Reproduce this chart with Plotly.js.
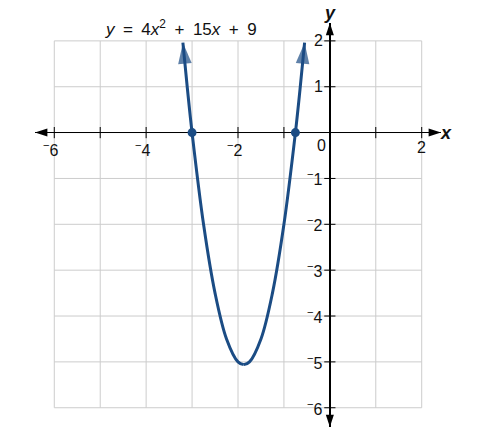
<!DOCTYPE html>
<html>
<head>
<meta charset="utf-8">
<script src="https://cdn.plot.ly/plotly-3.0.1.min.js"></script>
<style>
  html, body { margin: 0; padding: 0; background: #fff; }
  #plot { width: 487px; height: 433px; }
</style>
</head>
<body>
<div id="plot"></div>
<script>
const curveX = [-3.2, -3.1, -3, -2.75, -2.5, -2.25, -2, -1.875, -1.75, -1.5, -1.25, -1, -0.75, -0.65, -0.55];
const curveY = [1.96, 0.94, 0, -2, -3.5, -4.5, -5, -5.06, -5, -4.5, -3.5, -2, 0, 0.94, 1.96];
const rootX = [-3, -0.75];
const rootY = [0, 0];

const gridVals = [-6, -5, -4, -3, -2, -1, 0, 1, 2];
const xTickVals = [-6, -5, -4, -3, -2, -1, 1, 2];
const xLabelVals = [-6, -4, -2, 2];
const yTickVals = [-6, -5, -4, -3, -2, -1, 1, 2];
const yLabelVals = [-6, -5, -4, -3, -2, -1, 1, 2];

const blue = '#1b4c84';
const font = 'Liberation Sans, Arial, sans-serif';
const xRange = [-6.42, 2.42];
const yRange = [-6.42, 2.39];

function label(v) {
    return v < 0 ? '<sup>\u2212</sup>' + Math.abs(v) : String(v);
}

// split the curve at its lowest point so each half ends in an arrowhead
const vi = curveY.indexOf(Math.min(...curveY));
const leftX = curveX.slice(0, vi + 1).reverse();
const leftY = curveY.slice(0, vi + 1).reverse();
const rightX = curveX.slice(vi);
const rightY = curveY.slice(vi);

function half(xs, ys) {
    return {
        x: xs, y: ys,
        type: 'scatter', mode: 'lines+markers',
        line: { color: blue, width: 3, shape: 'spline', backoff: 'auto' },
        marker: {
            symbol: 'arrow', angleref: 'previous', color: blue,
            size: xs.map((_, i) => i === xs.length - 1 ? 22 : 0),
            line: { width: 0 }
        },
        cliponaxis: false,
        hoverinfo: 'skip'
    };
}

const traces = [
    {
        x: xTickVals, y: xTickVals.map(() => 0),
        type: 'scatter', mode: 'markers',
        marker: { symbol: 'line-ns-open', size: 8, color: '#000', line: { color: '#000', width: 1 } },
        hoverinfo: 'skip'
    },
    {
        x: yTickVals.map(() => 0), y: yTickVals,
        type: 'scatter', mode: 'markers',
        marker: { symbol: 'line-ew-open', size: 8, color: '#000', line: { color: '#000', width: 1 } },
        hoverinfo: 'skip'
    },
    // axis arrowheads at the ends of the axes
    {
        x: [xRange[0], xRange[1], 0, 0],
        y: [0, 0, yRange[1], yRange[0]],
        type: 'scatter', mode: 'markers',
        marker: { symbol: 'arrow', size: 13, color: '#000', angle: [-90, 90, 0, 180], line: { width: 0 } },
        cliponaxis: false,
        hoverinfo: 'skip'
    },
    half(leftX, leftY),
    half(rightX, rightY),
    {
        x: rootX, y: rootY,
        type: 'scatter', mode: 'markers',
        marker: { size: 9, color: blue },
        cliponaxis: false,
        hoverinfo: 'skip'
    }
];

const shapes = [];
gridVals.forEach(v => {
    shapes.push({ type: 'line', xref: 'x', yref: 'y', x0: v, x1: v, y0: -6, y1: 2,
        line: { color: '#cccccc', width: 1 }, layer: 'below' });
    shapes.push({ type: 'line', xref: 'x', yref: 'y', x0: -6, x1: 2, y0: v, y1: v,
        line: { color: '#cccccc', width: 1 }, layer: 'below' });
});

const annotations = [];
xLabelVals.forEach(v => {
    annotations.push({
        x: v, y: 0, xref: 'x', yref: 'y', text: label(v), showarrow: false,
        xanchor: 'center', yanchor: 'top', xshift: v < 0 ? -3.5 : 0, yshift: -4,
        font: { family: font, size: 16, color: '#111' }
    });
});
yLabelVals.forEach(v => {
    annotations.push({
        x: 0, y: v, xref: 'x', yref: 'y', text: label(v), showarrow: false,
        xanchor: 'right', yanchor: 'middle', xshift: -5,
        font: { family: font, size: 16, color: '#111' }
    });
});
annotations.push({
    x: 0, y: 0, xref: 'x', yref: 'y', text: '0', showarrow: false,
    xanchor: 'right', yanchor: 'top', xshift: -2, yshift: -2,
    font: { family: font, size: 16, color: '#111' }
});
annotations.push({
    x: 1.013, y: 0, xref: 'paper', yref: 'y', text: '<b><i>x</i></b>', showarrow: false,
    xanchor: 'center', yanchor: 'middle',
    font: { family: font, size: 18, color: '#111' }
});
annotations.push({
    x: 0, y: 1.025, xref: 'x', yref: 'paper', text: '<b><i>y</i></b>', showarrow: false,
    xanchor: 'center', yanchor: 'middle',
    font: { family: font, size: 18, color: '#111' }
});

const layout = {
    width: 487, height: 433,
    margin: { l: 34.7, r: 46.4, t: 23, b: 6 },
    paper_bgcolor: '#fff', plot_bgcolor: '#fff',
    showlegend: false,
    title: {
        text: '<i>y</i>\u2002=\u20024<i>x</i><sup>2</sup>\u2002+\u200215<i>x</i>\u2002+\u20029',
        x: 0.3604, xref: 'paper', xanchor: 'center',
        y: 0.933, yref: 'container', yanchor: 'middle',
        font: { family: font, size: 17, color: '#111' }
    },
    xaxis: {
        range: xRange, showgrid: false, showticklabels: false, ticks: '',
        zeroline: true, zerolinecolor: '#000', zerolinewidth: 1.3, fixedrange: true
    },
    yaxis: {
        range: yRange, showgrid: false, showticklabels: false, ticks: '',
        zeroline: true, zerolinecolor: '#000', zerolinewidth: 1.3, fixedrange: true
    },
    shapes: shapes,
    annotations: annotations
};

Plotly.newPlot('plot', traces, layout, { displayModeBar: false, staticPlot: true });
</script>
</body>
</html>
